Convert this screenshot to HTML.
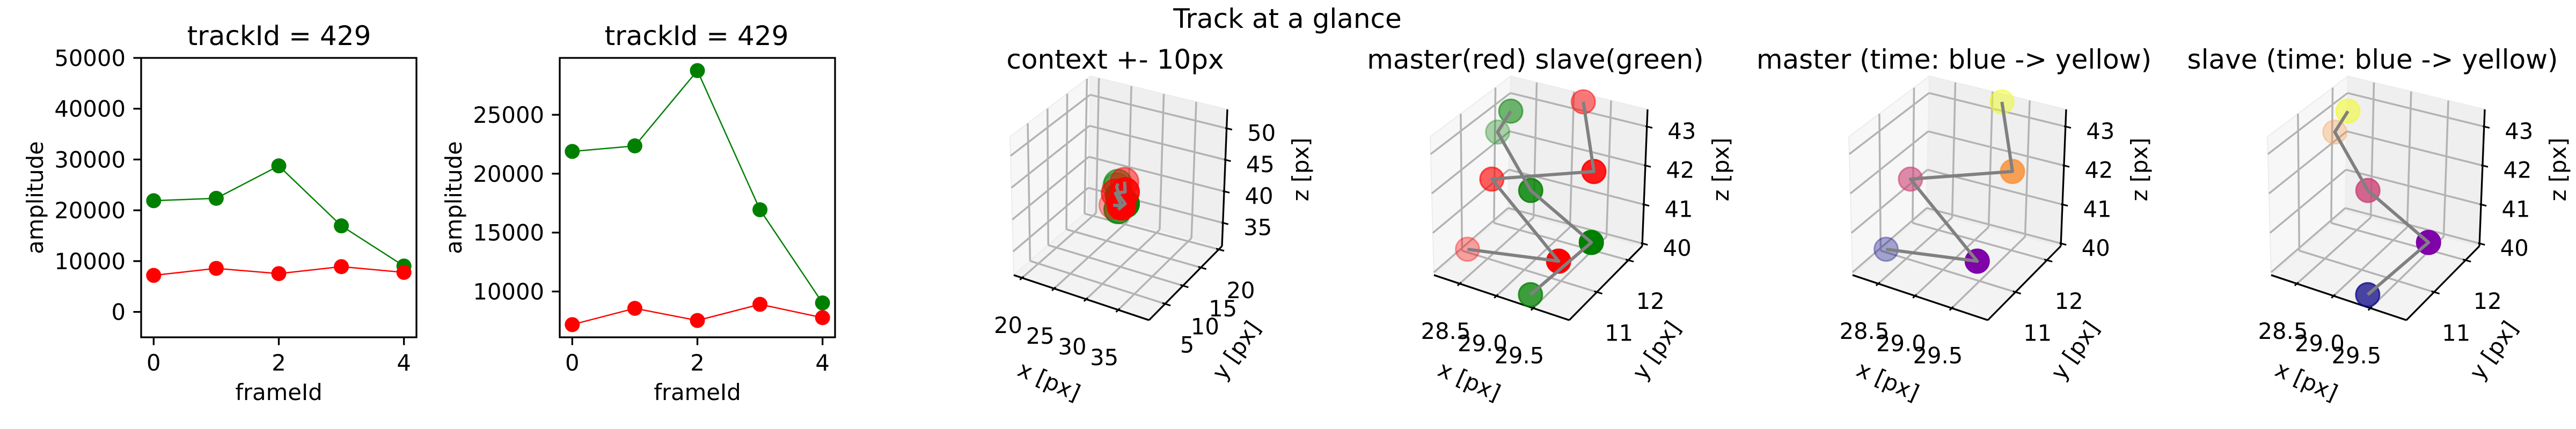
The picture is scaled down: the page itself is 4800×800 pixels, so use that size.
<!DOCTYPE html>
<html><head><meta charset="utf-8">
<style>
html,body{margin:0;padding:0;background:#fff;}
svg{display:block;font-family:"DejaVu Sans","Liberation Sans",sans-serif;}
</style></head>
<body>
<svg id="fig" width="4800" height="800" viewBox="0 0 4800 800" xmlns="http://www.w3.org/2000/svg">
<rect x="0" y="0" width="4800" height="800" fill="#fff"/>
<text x="2399" y="52" font-size="50" text-anchor="middle">Track at a glance</text>
</svg>
<script>
// ---------- 2D amplitude data ----------
const frames = [0, 1, 2, 3, 4];
const slaveAmp = [21890, 22360, 28750, 16940, 9030];
const masterAmp = [7190, 8570, 7540, 8910, 7780];
const p1YTicks = [0, 10000, 20000, 30000, 40000, 50000];
const p2YTicks = [10000, 15000, 20000, 25000];
const frameTicks = [0, 2, 4];
// ---------- 3D track data ----------
const masterX = [28.22, 29.29, 28.56, 29.51, 29.16];
const masterY = [11.01, 11.41, 11.00, 11.95, 12.37];
const masterZ = [40, 40, 42, 42, 43.3];
const slaveX = [29.36, 29.43, 28.63, 28.28, 28.39];
const slaveY = [10.36, 12.12, 12.03, 11.79, 11.93];
const slaveZ = [40, 40, 41, 42.5, 43];
const masterShade = [0.35, 1, 0.62, 0.88, 0.5];
const slaveShade = [0.75, 1, 0.82, 0.32, 0.55];
const ctxXTicks = [20, 25, 30, 35];
const ctxYTicks = [5, 10, 15, 20];
const ctxZTicks = [35, 40, 45, 50];
const zoomXTicks = [28.5, 29.0, 29.5];
const zoomYTicks = [11, 12];
const zoomZTicks = [40, 41, 42, 43];
const timeColors = ['#0d0887', '#7e03a8', '#cc4778', '#f89540', '#f0f921'];

const NS = 'http://www.w3.org/2000/svg';
const svg = document.getElementById('fig');
function mk(tag, attrs, parent, text) {
  const e = document.createElementNS(NS, tag);
  for (const k in attrs) e.setAttribute(k, attrs[k]);
  if (text !== undefined) e.textContent = text;
  (parent || svg).appendChild(e);
  return e;
}

// ---------- 2D panels ----------
function panel2D(left, right, top, bottom, ymin, ymax, yTicks, cx, idx) {
  const g = mk('g', {});
  
  
  const xmin = -0.2, xmax = 4.2;
  const sx = v => left + (v - xmin) / (xmax - xmin) * (right - left);
  const sy = v => bottom - (v - ymin) / (ymax - ymin) * (bottom - top);
  const t = mk('text', {x: cx, y: 84, 'font-size': 50, 'text-anchor': 'middle'}, g, 'trackId = 429');
  
  
  [[slaveAmp, 'green', 'slave'], [masterAmp, 'red', 'master']].forEach(([arr, col, nm]) => {
    const pts = frames.map((f, i) => sx(f) + ',' + sy(arr[i])).join(' ');
    const pl = mk('polyline', {points: pts, fill: 'none', stroke: col, 'stroke-width': 2.5}, g);
    
    
    frames.forEach((f, i) => {
      const c = mk('circle', {cx: sx(f), cy: sy(arr[i]), r: 14, fill: col}, g);
      
      
    });
  });
  const fr = mk('rect', {x: left, y: top, width: right - left, height: bottom - top, fill: 'none', stroke: '#000', 'stroke-width': 3.3}, g);
  
  
  yTicks.forEach(v => {
    const y = sy(v);
    const l = mk('line', {x1: left - 14.6, x2: left, y1: y, y2: y, stroke: '#000', 'stroke-width': 3.3}, g);
    
    
    const tx = mk('text', {x: left - 29, y: y + 15, 'font-size': 41.7, 'text-anchor': 'end'}, g, String(v));
    
    
  });
  frameTicks.forEach(v => {
    const x = sx(v);
    const l = mk('line', {x1: x, x2: x, y1: bottom, y2: bottom + 14.6, stroke: '#000', 'stroke-width': 3.3}, g);
    
    
    const tx = mk('text', {x: x, y: bottom + 62, 'font-size': 41.7, 'text-anchor': 'middle'}, g, String(v));
    
    
  });
  const xl = mk('text', {x: (left + right) / 2, y: 746, 'font-size': 41.7, 'text-anchor': 'middle'}, g, 'frameId');
  
  
  const yx = left - 183, yy = (top + bottom) / 2;
  const yl = mk('text', {x: yx, y: yy, 'font-size': 41.7, 'text-anchor': 'middle', transform: 'rotate(-90 ' + yx + ' ' + yy + ')'}, g, 'amplitude');
  
  
}
panel2D(263, 776, 108, 629, -5000, 50000, p1YTicks, 520, 1);
(function () {
  const all = slaveAmp.concat(masterAmp);
  const mn = Math.min(...all), mx = Math.max(...all), m = (mx - mn) * 0.05;
  panel2D(1043, 1556, 108, 629, mn - m, mx + m, p2YTicks, 1298, 2);
})();

// ---------- 3D panels ----------
const V = {D: [1889, 513], G: [2141, 597], F: [2277, 459], E: [2027, 393],
           A: [1882, 255], H: [2143, 340], C: [2287, 204], B: [2032, 142]};
function bil(p00, p10, p11, p01, u, v) {
  return [p00[0] * (1 - u) * (1 - v) + p10[0] * u * (1 - v) + p11[0] * u * v + p01[0] * (1 - u) * v,
          p00[1] * (1 - u) * (1 - v) + p10[1] * u * (1 - v) + p11[1] * u * v + p01[1] * (1 - u) * v];
}
function panel3D(ox, title, rng, xt, yt, zt, series, lineSets, r, idx) {
  const g = mk('g', {});
  
  
  const P = (u, v, w) => {
    const b = bil(V.D, V.G, V.F, V.E, u, v), t = bil(V.A, V.H, V.C, V.B, u, v);
    return [ox + b[0] * (1 - w) + t[0] * w, b[1] * (1 - w) + t[1] * w];
  };
  const nu = x => (x - rng[0]) / (rng[1] - rng[0]);
  const nv = y => (y - rng[2]) / (rng[3] - rng[2]);
  const nw = z => (z - rng[4]) / (rng[5] - rng[4]);
  const poly = (pts, fill, name) => {
    const p = mk('polygon', {points: pts.map(q => q.join(',')).join(' '), fill: fill, stroke: '#ececec', 'stroke-width': 2}, g);
    
    
  };
  poly([P(0,0,1), P(0,1,1), P(0,1,0), P(0,0,0)], '#f7f7f7', 'left-pane');
  poly([P(0,1,1), P(1,1,1), P(1,1,0), P(0,1,0)], '#efefef', 'back-pane');
  poly([P(0,0,0), P(1,0,0), P(1,1,0), P(0,1,0)], '#f3f3f3', 'floor-pane');
  const seg = (a, b, col, w, name) => {
    const l = mk('line', {x1: a[0], y1: a[1], x2: b[0], y2: b[1], stroke: col, 'stroke-width': w, 'stroke-linecap': 'butt'}, g);
    
    
  };
  const GC = '#b3b3b3', GW = 3.5;
  xt.forEach(x => { const u = nu(x); seg(P(u,0,0), P(u,1,0), GC, GW, 'x-gridline'); seg(P(u,1,0), P(u,1,1), GC, GW, 'x-gridline'); });
  yt.forEach(y => { const v = nv(y); seg(P(0,v,0), P(1,v,0), GC, GW, 'y-gridline'); seg(P(0,v,0), P(0,v,1), GC, GW, 'y-gridline'); });
  zt.forEach(z => { const w = nw(z); seg(P(0,0,w), P(0,1,w), GC, GW, 'z-gridline'); seg(P(0,1,w), P(1,1,w), GC, GW, 'z-gridline'); });
  seg(P(0,0,0), P(1,0,0), '#000', 3.3, 'x-axis-line');
  seg(P(1,0,0), P(1,1,0), '#000', 3.3, 'y-axis-line');
  seg(P(1,1,0), P(1,1,1), '#000', 3.3, 'z-axis-line');
  const txt = (x, y, s, name, extra) => {
    const t = mk('text', Object.assign({x: x, y: y, 'font-size': 41.7, 'text-anchor': 'middle'}, extra || {}), g, s);
    
    
  };
  xt.forEach(x => { const u = nu(x); const a = P(u,-0.03,0), b = P(u,0.02,0); seg(a, b, '#000', 3, 'x-tick');
    const q = P(u,0,0); txt(q[0] - 26, q[1] + 88 + 15, x.toFixed(xt.some(t => t % 1) ? 1 : 0), 'x-tick-label'); });
  yt.forEach(y => { const v = nv(y); const a = P(0.98,v,0), b = P(1.04,v,0); seg(a, b, '#000', 3, 'y-tick');
    const q = P(1,v,0); txt(q[0] + 41, q[1] + 76 + 15, String(y), 'y-tick-label'); });
  zt.forEach(z => { const w = nw(z); const a = P(0.99,1,w), b = P(1.04,1,w); seg(a, b, '#000', 3, 'z-tick');
    const q = P(1,1,w); txt(q[0] + 65, q[1] + 8 + 15, String(z), 'z-tick-label'); });
  txt(ox + 1955, 725, 'x [px]', 'x-axis-title', {transform: 'rotate(24 ' + (ox + 1955) + ' 710)'});
  txt(ox + 2303, 668, 'y [px]', 'y-axis-title', {transform: 'rotate(-55 ' + (ox + 2303) + ' 653)'});
  txt(ox + 2424, 330, 'z [px]', 'z-axis-title', {transform: 'rotate(-90 ' + (ox + 2424) + ' 316)'});
  txt(ox + 2078, 128, title, 'panel-title', {'font-size': 50});
  series.forEach(s => {
    s.x.forEach((xv, i) => {
      const q = P(nu(xv), nv(s.y[i]), nw(s.z[i]));
      const c = mk('circle', {cx: q[0], cy: q[1], r: r, fill: s.col[i], 'fill-opacity': s.shade[i], stroke: s.col[i], 'stroke-opacity': s.shade[i], 'stroke-width': 3}, g);
      
      
    });
  });
  lineSets.forEach(s => {
    const pts = s.x.map((xv, i) => P(nu(xv), nv(s.y[i]), nw(s.z[i])).join(',')).join(' ');
    const pl = mk('polyline', {points: pts, fill: 'none', stroke: 'grey', 'stroke-width': 6, 'stroke-linejoin': 'round'}, g);
    
    
  });
}
const fill = c => frames.map(() => c);
const M = {name: 'master', x: masterX, y: masterY, z: masterZ, shade: masterShade};
const S = {name: 'slave', x: slaveX, y: slaveY, z: slaveZ, shade: slaveShade};
const ctxR = [18.7, 39.8, 0.5, 20.9, 31.3, 53];
const zR = [28.15, 29.99, 10.12, 12.44, 39.93, 43.44];
panel3D(0, 'context +- 10px', ctxR, ctxXTicks, ctxYTicks, ctxZTicks,
  [Object.assign({}, S, {col: fill('green')}), Object.assign({}, M, {col: fill('red')})], [M, S], 26, 3);
panel3D(783, 'master(red) slave(green)', zR, zoomXTicks, zoomYTicks, zoomZTicks,
  [Object.assign({}, M, {col: fill('red')}), Object.assign({}, S, {col: fill('green')})], [M, S], 22, 4);
panel3D(1563, 'master (time: blue -> yellow)', zR, zoomXTicks, zoomYTicks, zoomZTicks,
  [Object.assign({}, M, {col: timeColors})], [M], 22, 5);
panel3D(2343, 'slave (time: blue -> yellow)', zR, zoomXTicks, zoomYTicks, zoomZTicks,
  [Object.assign({}, S, {col: timeColors})], [S], 22, 6);
</script>
</body></html>
